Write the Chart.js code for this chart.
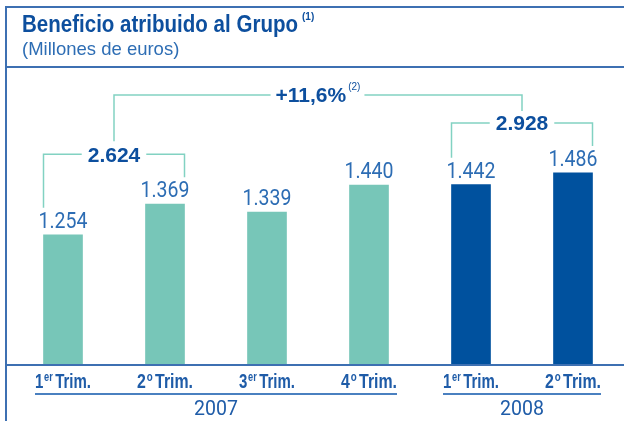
<!DOCTYPE html>
<html>
<head>
<meta charset="utf-8">
<script src="https://cdn.jsdelivr.net/npm/chart.js@4.4.1/dist/chart.umd.min.js"></script>
<style>
    html, body { margin: 0; padding: 0; background: #fff; }
    #wrap { width: 624px; height: 421px; position: relative; }
</style>
</head>
<body>
<div id="wrap"><canvas id="profitChart"></canvas></div>
<script>
// datos (millones de euros)
const quarterNums = ['1', '2', '3', '4', '1', '2'];
const quarterSups = ['er', 'o', 'er', 'o', 'er', 'o'];
const quarterWord = 'Trim.';
const profit = [1254, 1369, 1339, 1440, 1442, 1486];
const years = ['2007', '2008'];
const yearOfBar = [0, 0, 0, 0, 1, 1];
const halfTotals = [2624, 2928];
const halfTotalBars = [[0, 1], [4, 5]];
const growthLabel = '+11,6%';
const growthNote = '(2)';
const titleText = 'Beneficio atribuido al Grupo';
const titleNote = '(1)';
const subtitleText = '(Millones de euros)';

const TEAL = '#77c6b8';
const BLUE = '#00519e';
const TITLE = '#0d4f9e';
const TEXT = '#2d6db4';
const FRAME = '#3d70b2';
const BRACKET = '#82d2c2';
const SANS = '"Liberation Sans", Arial, sans-serif';
const LIGHT = 'Roboto, "Liberation Sans", sans-serif';

function fmt(n) {
    return String(n).replace(/\B(?=(\d{3})+(?!\d))/g, '.');
}

const overlay = {
    id: 'overlay',
    afterDraw(chart) {
        const ctx = chart.ctx;
        const bars = chart.getDatasetMeta(0).data;
        const area = chart.chartArea;
        const W = chart.width, H = chart.height;
        ctx.save();

        // marco
        ctx.strokeStyle = FRAME;
        ctx.lineWidth = 2;
        ctx.beginPath();
        ctx.moveTo(6, H); ctx.lineTo(6, 7); ctx.lineTo(W, 7);
        ctx.moveTo(6, 67); ctx.lineTo(W, 67);
        ctx.moveTo(6, area.bottom); ctx.lineTo(W, area.bottom);
        ctx.stroke();

        // titulo
        ctx.textAlign = 'left';
        ctx.textBaseline = 'alphabetic';
        ctx.fillStyle = TITLE;
        ctx.font = 'bold 23.5px ' + SANS;
        ctx.fillText(titleText, 22, 32, 276);
        const tw = Math.min(ctx.measureText(titleText).width, 276);
        ctx.font = 'bold 10px ' + SANS;
        ctx.fillText(titleNote, 22 + tw + 4, 20);
        ctx.fillStyle = TEXT;
        ctx.font = '18.5px ' + SANS;
        ctx.fillText(subtitleText, 22, 55);

        // valores sobre las barras
        ctx.textAlign = 'center';
        ctx.fillStyle = TEXT;
        ctx.font = '22.5px ' + LIGHT;
        bars.forEach((b, i) => ctx.fillText(fmt(profit[i]), b.x, b.y - 7, 49));

        // corchetes de totales semestrales
        function bracket(x1, yb1, x2, yb2, yh, label) {
            const cx = (x1 + x2) / 2;
            ctx.font = 'bold 21px ' + SANS;
            const w = ctx.measureText(label).width;
            ctx.strokeStyle = BRACKET;
            ctx.lineWidth = 1.5;
            ctx.beginPath();
            ctx.moveTo(x1, yb1); ctx.lineTo(x1, yh); ctx.lineTo(cx - w / 2 - 6, yh);
            ctx.moveTo(cx + w / 2 + 6, yh); ctx.lineTo(x2, yh); ctx.lineTo(x2, yb2);
            ctx.stroke();
            ctx.fillStyle = TITLE;
            ctx.textAlign = 'center';
            ctx.fillText(label, cx, yh + 7.5);
            return { x: cx, y: yh };
        }

        const mids = halfTotalBars.map(([a, c], k) => {
            const b1 = bars[a], b2 = bars[c];
            const x1 = b1.x - b1.width / 2, x2 = b2.x + b2.width / 2;
            const yh = Math.min(b1.y, b2.y) - 50;
            return bracket(x1, b1.y - 27, x2, b2.y - 27, yh, fmt(halfTotals[k]));
        });

        // crecimiento
        const yo = Math.min(...mids.map(m => m.y)) - 28;
        const gx = (mids[0].x + mids[1].x) / 2;
        ctx.font = 'bold 21px ' + SANS;
        const gw = ctx.measureText(growthLabel).width;
        ctx.font = '10px ' + SANS;
        const nw = ctx.measureText(growthNote).width;
        const total = gw + 2 + nw;
        const gl = gx - total / 2;
        ctx.strokeStyle = BRACKET;
        ctx.lineWidth = 1.5;
        ctx.beginPath();
        ctx.moveTo(mids[0].x, mids[0].y - 13); ctx.lineTo(mids[0].x, yo); ctx.lineTo(gl - 5, yo);
        ctx.moveTo(gl + total + 4, yo); ctx.lineTo(mids[1].x, yo); ctx.lineTo(mids[1].x, mids[1].y - 12);
        ctx.stroke();
        ctx.textAlign = 'left';
        ctx.fillStyle = TITLE;
        ctx.font = 'bold 21px ' + SANS;
        ctx.fillText(growthLabel, gl, yo + 7);
        ctx.font = '10px ' + SANS;
        ctx.fillText(growthNote, gl + gw + 2, yo - 5);

        // etiquetas del eje x (condensadas)
        const spans = years.map(() => ({ l: Infinity, r: -Infinity }));
        ctx.fillStyle = '#1f5ca8';
        ctx.textAlign = 'left';
        bars.forEach((b, i) => {
            ctx.font = 'bold 19.5px ' + SANS;
            const wn = ctx.measureText(quarterNums[i]).width;
            const wt = ctx.measureText(quarterWord).width;
            ctx.font = 'bold 12px ' + SANS;
            const ws = ctx.measureText(quarterSups[i]).width;
            const full = wn + 1 + ws + 3 + wt;
            const k = Math.min(1, 56 / full);
            ctx.save();
            ctx.translate(b.x, 0);
            ctx.scale(k, 1);
            const left = -full / 2;
            ctx.font = 'bold 19.5px ' + SANS;
            ctx.fillText(quarterNums[i], left, 388);
            ctx.fillText(quarterWord, left + wn + 1 + ws + 3, 388);
            ctx.font = 'bold 12px ' + SANS;
            ctx.fillText(quarterSups[i], left + wn + 1, 381);
            ctx.restore();
            const s = spans[yearOfBar[i]];
            s.l = Math.min(s.l, b.x - full * k / 2);
            s.r = Math.max(s.r, b.x + full * k / 2);
        });

        // años
        ctx.strokeStyle = '#4a80c0';
        ctx.lineWidth = 2;
        ctx.textAlign = 'center';
        ctx.font = '21px ' + LIGHT;
        spans.forEach((s, k) => {
            ctx.beginPath();
            ctx.moveTo(s.l, 394); ctx.lineTo(s.r, 394);
            ctx.stroke();
            ctx.fillText(years[k], (s.l + s.r) / 2, 415, 44);
        });

        ctx.restore();
    }
};

const ctx = document.getElementById('profitChart').getContext('2d');
const chart = new Chart(ctx, {
    type: 'bar',
    data: {
        labels: quarterNums.map((q, i) => q + quarterSups[i] + ' ' + quarterWord + ' ' + years[yearOfBar[i]]),
        datasets: [{
            data: profit,
            backgroundColor: yearOfBar.map(y => (y === 0 ? TEAL : BLUE)),
            barThickness: 39,
            borderWidth: 0
        }]
    },
    options: {
        responsive: true,
        maintainAspectRatio: false,
        animation: false,
        events: [],
        layout: { padding: { left: 12, right: 0, top: 70, bottom: 56 } },
        scales: {
            x: { display: false },
            y: { display: false, min: 767, max: 1871 }
        },
        plugins: {
            legend: { display: false },
            tooltip: { enabled: false }
        }
    },
    plugins: [overlay]
});
</script>
</body>
</html>
